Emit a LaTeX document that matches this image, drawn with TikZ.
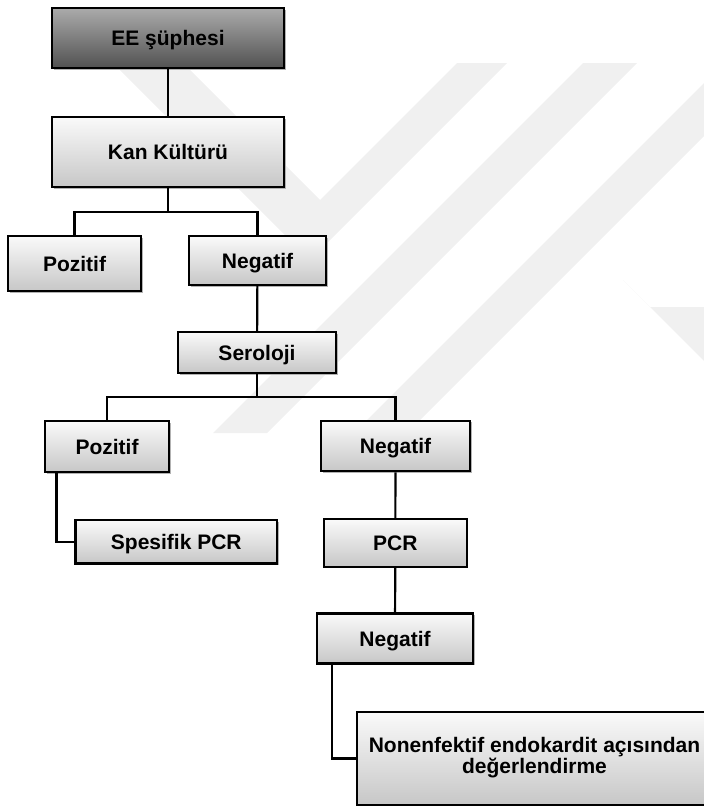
\documentclass[tikz,border=0pt]{standalone}
\usepackage{fontspec}
\setmainfont{Liberation Sans}
\usetikzlibrary{shadows}
\definecolor{wm}{RGB}{240,240,240}
\tikzset{
  box/.style={draw=black, line width=2.2pt, inner sep=0pt, align=center,
    font=\bfseries\fontsize{21}{20}\selectfont, text height=15pt, text depth=0pt,
    top color=black!2, bottom color=black!22,
    drop shadow={shadow xshift=1.6pt, shadow yshift=-1.6pt, fill=black!30, opacity=1}},
  darkbox/.style={box, top color=black!33, bottom color=black!68},
  link/.style={draw=black, line width=2.2pt},
}
\begin{document}
\begin{tikzpicture}[x=1pt,y=-1pt]
\useasboundingbox (0,0) rectangle (704,806);
\clip (0,0) rectangle (704,806);
% watermark (faint)
\begin{scope}
  \clip (0,63) rectangle (704,433);
  \fill[wm] (457,63) -- (507,63) -- (310,260) -- (113,63) -- (183,63) -- (320,200) -- cycle;
  \fill[wm] (583,63) -- (637,63) -- (267,433) -- (213,433) -- cycle;
  \fill[wm] (724,63) -- (777,63) -- (407,433) -- (354,433) -- cycle;
  \fill[wm] (650,307) -- (704,307) -- (704,361) -- (623,280) -- cycle;
\end{scope}
% nodes
\node[darkbox, minimum width=232pt, minimum height=60pt] (ee) at (168,38) {EE şüphesi};
\node[box, minimum width=232pt, minimum height=70pt] (kan) at (168,152) {Kan Kültürü};
\node[box, minimum width=133pt, minimum height=55pt] (poz1) at (74.5,263.5) {Pozitif};
\node[box, minimum width=137pt, minimum height=49pt] (neg1) at (257.5,260.5) {Negatif};
\node[box, minimum width=158pt, minimum height=41pt] (sero) at (257,352.5) {Seroloji};
\node[box, minimum width=124pt, minimum height=51pt] (poz2) at (107,446.5) {Pozitif};
\node[box, minimum width=201.5pt, minimum height=43.5pt] (spec) at (176.3,541.7) {Spesifik PCR};
\node[box, minimum width=149pt, minimum height=50.5pt] (neg2) at (395.5,446) {Negatif};
\node[box, minimum width=142.7pt, minimum height=47.7pt] (pcr) at (395.3,542.8) {PCR};
\node[box, minimum width=156pt, minimum height=50pt] (neg3) at (395,638.5) {Negatif};
\node[box, minimum width=355pt, minimum height=93pt, font=\bfseries\fontsize{21}{21}\selectfont, text height=29pt] (big) at (534.5,758.5) {Nonenfektif endokardit açısından\\değerlendirme};
% branch points
\coordinate (b1) at (168,212);
\coordinate (b2) at (257,397);
% connectors
\draw[link] (ee) -- (kan);
\draw[link] (kan) -- (b1);
\draw[link] (poz1.north) |- (b1) -| (neg1.north);
\draw[link] (neg1) -- (sero);
\draw[link] (sero) -- (b2);
\draw[link] (poz2.north) |- (b2) -| (neg2.north);
\draw[link] ([xshift=12.5pt]poz2.south west) |- (spec.west);
\draw[link] (neg2) -- (pcr);
\draw[link] (pcr) -- (neg3);
\draw[link] ([xshift=16.3pt]neg3.south west) |- (big.west);
\end{tikzpicture}
\end{document}
